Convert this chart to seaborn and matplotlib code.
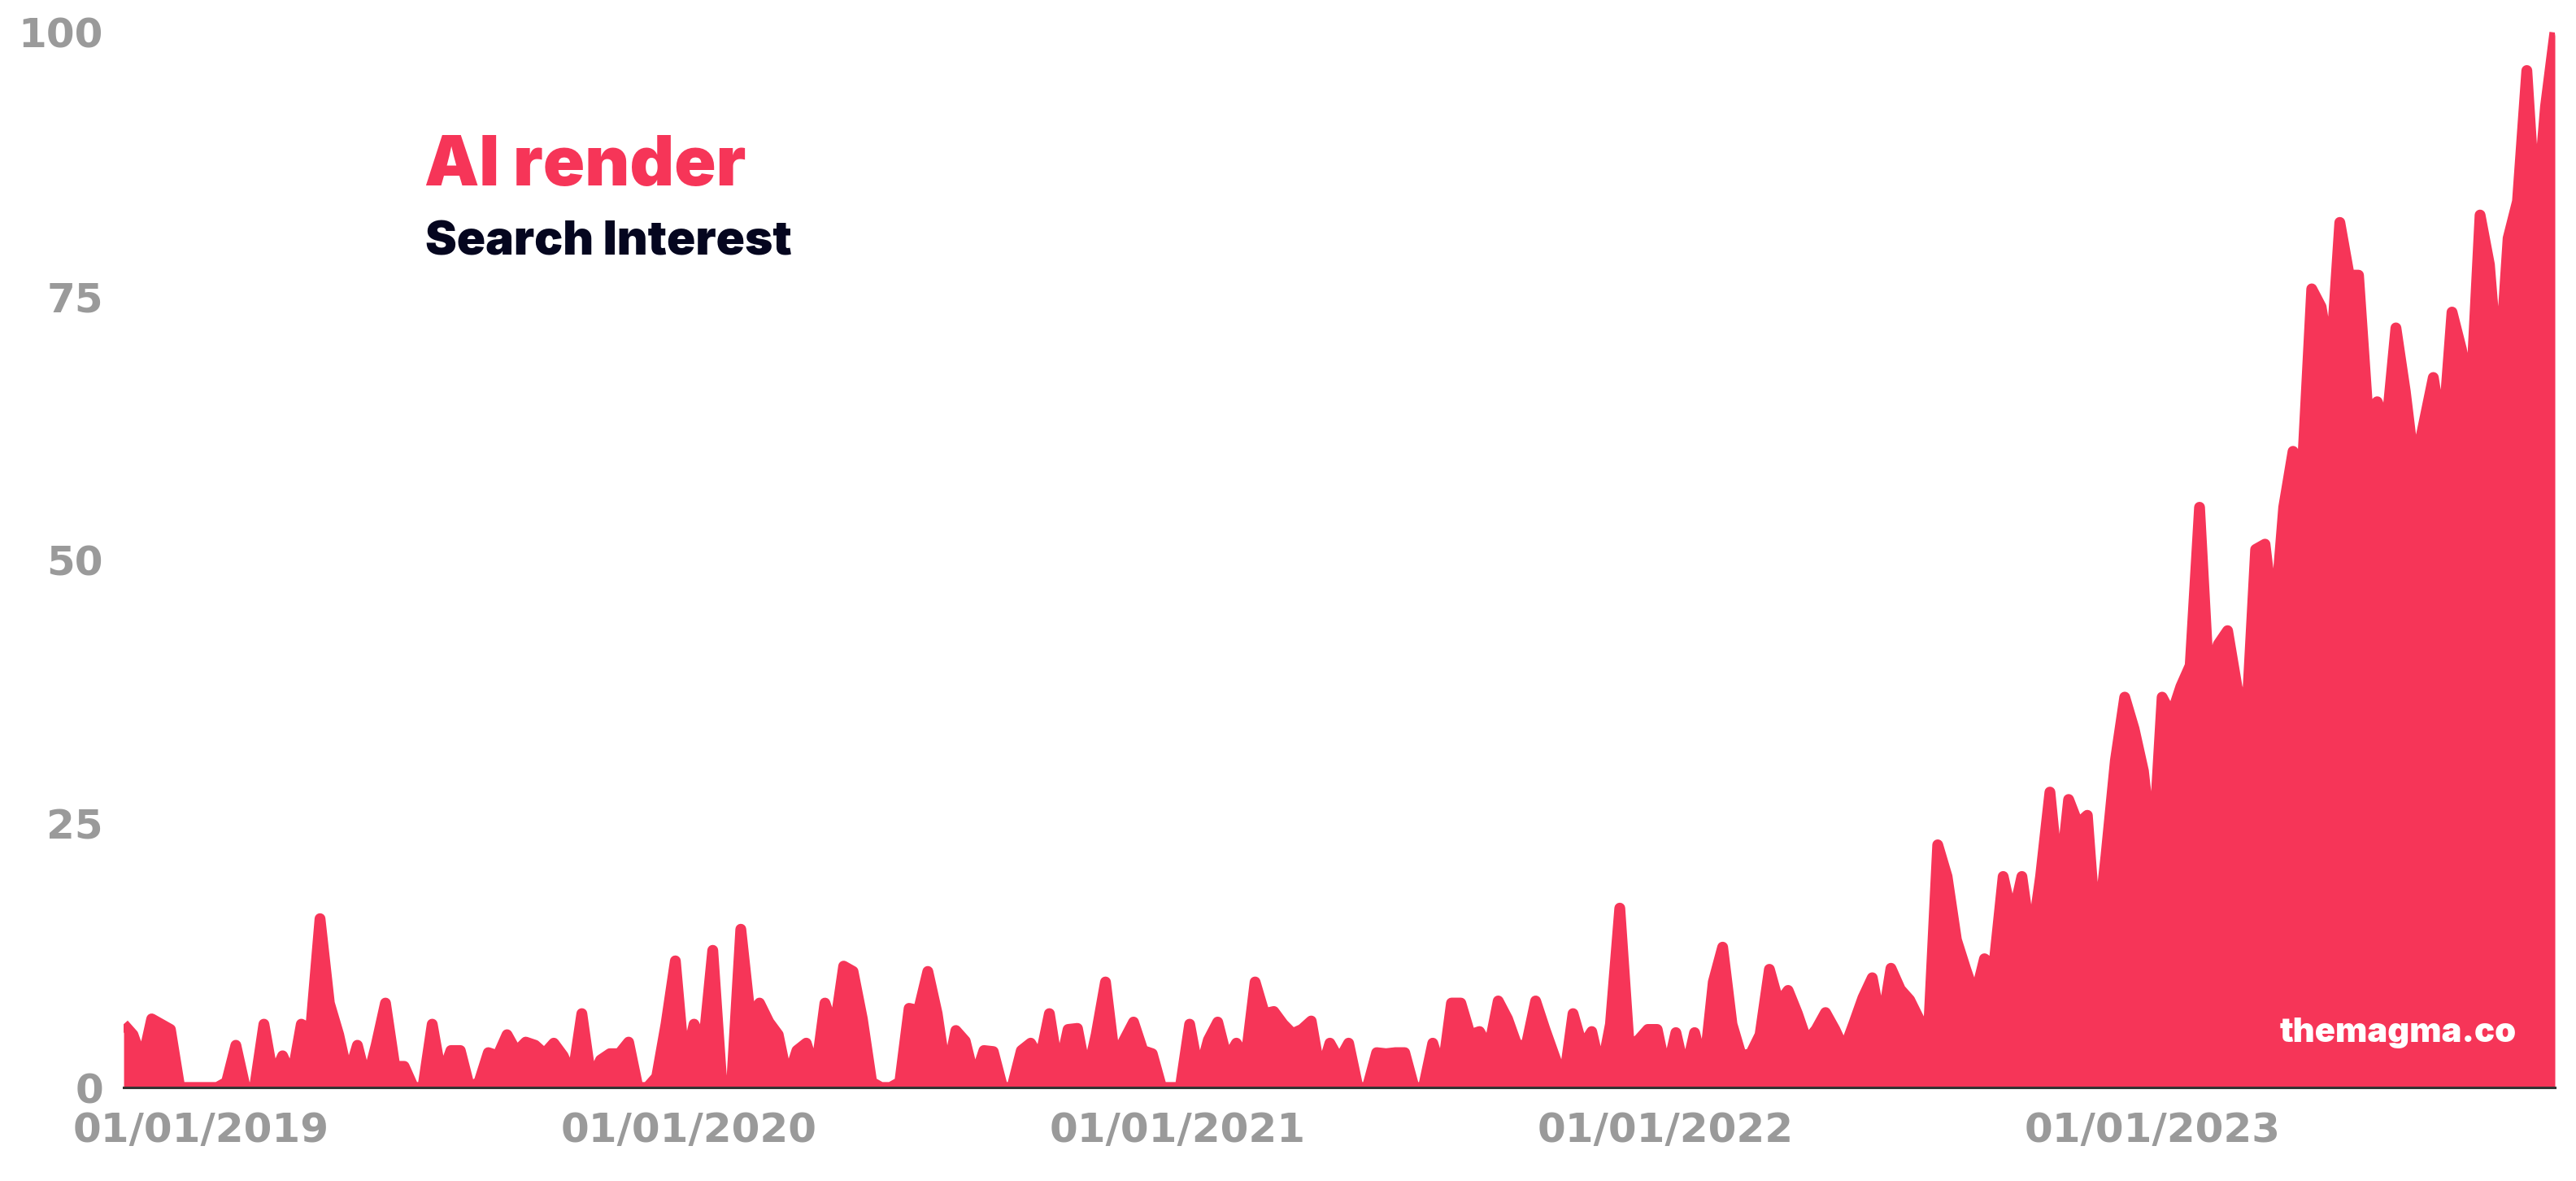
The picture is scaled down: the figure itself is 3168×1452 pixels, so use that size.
import numpy as np
import pandas as pd
import matplotlib.pyplot as plt
import seaborn as sns

sns.set_theme(style="white")
plt.rcParams["font.family"] = ["DejaVu Sans"]

# weekly search interest (0-100), first week starting 2018-11-04
start_week = "2018-11-04"
interest = [
    6, 5, 2.5, 6.5, 6, 5.5, 0, 0, 0, 0,
    0, 0.5, 4, 0, 0, 6, 1, 3, 1, 6,
    5.5, 16, 8, 5, 1, 4, 0.5, 4, 8, 2,
    2, 0, 0, 6, 1, 3.5, 3.5, 0, 0.5, 3.3,
    3, 5, 3.4, 4.3, 4, 3.2, 4.2, 3, 1, 7,
    0.7, 2.6, 3.2, 3.2, 4.3, 0, 0, 1, 6, 12,
    2, 6, 4, 13, 0, 0, 15, 6.8, 8, 6.2,
    5, 0.7, 3.5, 4.2, 1.3, 8, 5.4, 11.5, 11, 6.5,
    0.5, 0, 0, 0.5, 7.5, 7.3, 11, 7, 1, 5.4,
    4.4, 0.8, 3.5, 3.4, 0, 0, 3.5, 4.2, 2.7, 7,
    1.4, 5.5, 5.6, 1, 5, 10, 2.7, 4.5, 6.2, 3.5,
    3.2, 0, 0, 0, 6, 1.2, 4.5, 6.2, 2.7, 4.2,
    2.7, 10, 7, 7.2, 6, 5.1, 5.5, 6.3, 1.2, 4.2,
    2.6, 4.2, 0, 0, 3.3, 3.2, 3.3, 3.3, 0, 0,
    4.2, 1.3, 8, 8, 5, 5.3, 3.7, 8.2, 6.5, 4,
    4, 8.2, 5.5, 3, 0.5, 7, 3.9, 5.3, 1.4, 6,
    17, 4, 4.5, 5.5, 5.5, 1.3, 5.2, 1.3, 5.2, 1.7,
    10, 13.3, 6, 3, 3.2, 5, 11.2, 8, 9.2, 7,
    4.4, 5.5, 7.1, 5.5, 3.6, 6, 8.5, 10.4, 5.7, 11.3,
    9.3, 8.3, 6.5, 5, 23, 20, 14, 11.2, 8.6, 12.2,
    11.5, 20, 16, 20, 13.6, 20, 28, 19, 27.3, 25,
    25.8, 13.8, 22, 31, 37, 34, 30, 22, 37, 35.3,
    38, 40, 55, 38.6, 42, 43.3, 38, 34.6, 51, 51.5,
    44, 55, 60.3, 58.7, 75.7, 74, 68.5, 82, 77, 77,
    64, 65, 62.7, 72, 66, 58.7, 63, 67.3, 61.7, 73.5,
    70, 65.3, 82.7, 78, 67, 80.5, 84, 96.4, 82.4, 93,
    100,
]
year_ticks = ["2019-01-01", "2020-01-01", "2021-01-01", "2022-01-01", "2023-01-01"]
y_ticks = [0, 25, 50, 75, 100]
title = "AI render"
subtitle = "Search Interest"
watermark = "themagma.co"

RED = "#f63558"
NAVY = "#05061f"
GREY = "#9a9a9a"
HEAVY = ["Inter", "Liberation Sans", "DejaVu Sans"]

weeks = pd.date_range(start_week, periods=len(interest), freq="7D")
df = pd.DataFrame({"week": weeks, "interest": interest})

# outline only where it matters: drop points sitting inside a run of zeros
vals = df["interest"].to_numpy(dtype=float)
prev_zero = np.r_[False, vals[:-1] == 0]
next_zero = np.r_[vals[1:] == 0, False]
df["outline"] = np.where((vals == 0) & prev_zero & next_zero, np.nan, vals)

fig = plt.figure(figsize=(15.84, 7.26), dpi=200)
ax = fig.add_axes([0.048, 0.0792, 0.9438, 0.9022])

# area + thick round-joined outline gives the soft peaks
ax.fill_between(df["week"], df["interest"], 0, color=RED, lw=0)
sns.lineplot(data=df, x="week", y="outline", color=RED, lw=4.8,
             solid_joinstyle="round", solid_capstyle="butt", ax=ax)

ax.set_xlim(weeks[0], weeks[-1])
ax.set_ylim(0, 101)

tick_dates = pd.to_datetime(year_ticks)
ax.set_xticks(tick_dates)
ax.set_xticklabels([d.strftime("%d/%m/%Y") for d in tick_dates])
ax.set_yticks(y_ticks)
ax.set_yticklabels([str(v) for v in y_ticks])
ax.tick_params(axis="both", length=0, labelsize=18, labelcolor=GREY)
ax.tick_params(axis="x", pad=10.5)
ax.tick_params(axis="y", pad=9)
for lab in ax.get_xticklabels() + ax.get_yticklabels():
    lab.set_fontweight("bold")

ax.set_xlabel("")
ax.set_ylabel("")
for side in ["left", "top", "right"]:
    ax.spines[side].set_visible(False)
ax.spines["bottom"].set_color("#333333")
ax.spines["bottom"].set_linewidth(1.1)
ax.spines["bottom"].set_zorder(5)

fig.text(0.1648, 0.843, title, color=RED, fontsize=30.5, fontweight="black",
         family=HEAVY, va="baseline", ha="left")
fig.text(0.165, 0.7844, subtitle, color=NAVY, fontsize=21, fontweight="black",
         family=HEAVY, va="baseline", ha="left")
fig.text(0.977, 0.1178, watermark, color="white", fontsize=15, fontweight="black",
         family=HEAVY, va="baseline", ha="right")

fig.savefig("out.png", dpi=200)
plt.close(fig)
